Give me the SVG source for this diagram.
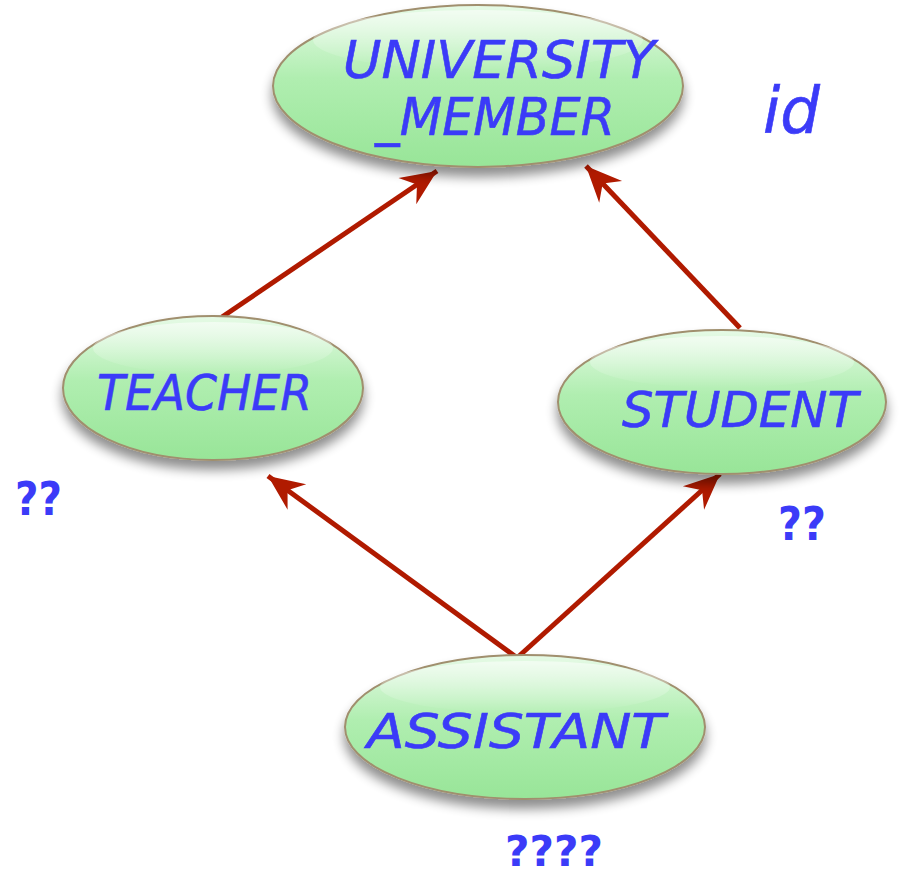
<svg xmlns="http://www.w3.org/2000/svg" width="899" height="878" viewBox="0 0 899 878">
<style>
.lbl{font-family:"DejaVu Sans","Liberation Sans",sans-serif;font-style:italic;fill:#3b3bf8;stroke:#3b3bf8;stroke-width:0.6;}
.q{font-family:"DejaVu Sans","Liberation Sans",sans-serif;font-weight:bold;fill:#3b3bf8;}
.node{fill:url(#g);stroke:#a08f6e;stroke-width:2;filter:url(#sh);}
.hl{fill:url(#hl);}
.conn{stroke:#b01a00;stroke-width:5;fill:none;marker-end:url(#ah);}
</style>
<defs>
<linearGradient id="g" x1="0" y1="0" x2="0" y2="1">
<stop offset="0" stop-color="#e6fae6"/>
<stop offset="0.45" stop-color="#b0eeb0"/>
<stop offset="1" stop-color="#98e598"/>
</linearGradient>
<linearGradient id="hl" x1="0" y1="0" x2="0" y2="1">
<stop offset="0" stop-color="#ffffff" stop-opacity="0.55"/>
<stop offset="1" stop-color="#ffffff" stop-opacity="0"/>
</linearGradient>
<filter id="sh" x="-20%" y="-20%" width="140%" height="160%">
<feGaussianBlur in="SourceAlpha" stdDeviation="6"/>
<feOffset dx="0" dy="9" result="b"/>
<feComponentTransfer><feFuncA type="linear" slope="0.45"/></feComponentTransfer>
<feMerge><feMergeNode/><feMergeNode in="SourceGraphic"/></feMerge>
</filter>
<marker id="ah" markerUnits="userSpaceOnUse" markerWidth="40" markerHeight="40" viewBox="-36 -17 38 34" refX="0" refY="0" orient="auto">
<path d="M0,0 L-34,-15 L-23,0 L-34,15 Z" fill="#b01a00"/>
</marker>
</defs>
<g id="connectors">
<line class="conn" x1="222" y1="317" x2="437" y2="171"/>
<line class="conn" x1="740" y1="328" x2="586" y2="166"/>
<line class="conn" x1="516" y1="657" x2="268" y2="476"/>
<line class="conn" x1="518" y1="657" x2="720" y2="474"/>
</g>
<g id="university_member">
<ellipse class="node" cx="478" cy="86" rx="205" ry="81"/>
<ellipse class="hl" cx="478" cy="40" rx="165" ry="30"/>
<text class="lbl" x="343" y="78" font-size="52" textLength="312" lengthAdjust="spacingAndGlyphs">UNIVERSITY</text>
<text class="lbl" x="375" y="135" font-size="52" textLength="240" lengthAdjust="spacingAndGlyphs">_MEMBER</text>
</g>
<g id="teacher">
<ellipse class="node" cx="213" cy="388" rx="150" ry="72"/>
<ellipse class="hl" cx="213" cy="348" rx="120" ry="26"/>
<text class="lbl" x="97" y="410" font-size="49" textLength="215" lengthAdjust="spacingAndGlyphs">TEACHER</text>
</g>
<g id="student">
<ellipse class="node" cx="722" cy="402" rx="164" ry="72"/>
<ellipse class="hl" cx="722" cy="362" rx="132" ry="26"/>
<text class="lbl" x="622" y="427" font-size="49" textLength="236" lengthAdjust="spacingAndGlyphs">STUDENT</text>
</g>
<g id="assistant">
<ellipse class="node" cx="525" cy="727" rx="180" ry="72"/>
<ellipse class="hl" cx="525" cy="687" rx="145" ry="26"/>
<text class="lbl" x="367" y="748" font-size="48" textLength="298" lengthAdjust="spacingAndGlyphs">ASSISTANT</text>
</g>
<g id="annotations">
<text class="lbl" x="763" y="133" font-size="64" textLength="57" lengthAdjust="spacingAndGlyphs">id</text>
<text class="q" x="15" y="515" font-size="46" textLength="47" lengthAdjust="spacingAndGlyphs">??</text>
<text class="q" x="778" y="540" font-size="46" textLength="48" lengthAdjust="spacingAndGlyphs">??</text>
<text class="q" x="505" y="866" font-size="42" textLength="98" lengthAdjust="spacingAndGlyphs">????</text>
</g>
</svg>
